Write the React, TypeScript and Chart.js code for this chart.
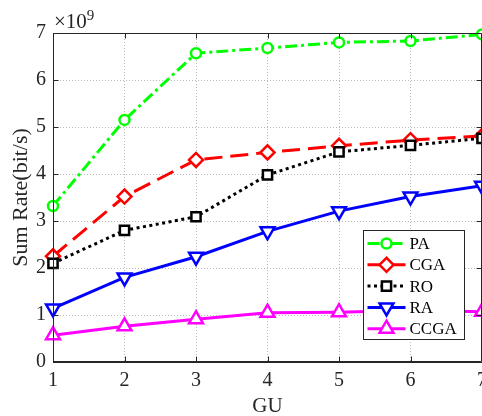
import React, { useEffect, useRef } from "react";
import { Chart, registerables } from "chart.js";
import { drawPoint } from "chart.js/helpers";

Chart.register(...registerables);

const categories = ["1", "2", "3", "4", "5", "6", "7"];
const yTickValues = [0, 1, 2, 3, 4, 5, 6, 7];
const seriesNames = ["PA", "CGA", "RO", "RA", "CCGA"];
const paValues = [3.32, 5.15, 6.57, 6.68, 6.8, 6.83, 6.97];
const cgaValues = [2.25, 3.52, 4.3, 4.46, 4.6, 4.72, 4.81];
const roValues = [2.1, 2.8, 3.09, 3.98, 4.47, 4.61, 4.76];
const raValues = [1.14, 1.8, 2.24, 2.78, 3.21, 3.52, 3.75];
const ccgaValues = [0.57, 0.76, 0.91, 1.05, 1.06, 1.1, 1.07];
const xTitle = "GU";
const yTitle = "Sum Rate(bit/s)";
const exponentBase = "×10";
const exponentPower = "9";

const FONT = '"Liberation Serif", "Times New Roman", serif';
const AXIS = "#262626";

const seriesStyles = [
  { color: "#00ff00", dash: [12, 4, 3, 4], point: "circle", radius: 5, rotation: 0 },
  { color: "#ff0000", dash: [18, 8], point: "rectRot", radius: 7, rotation: 0 },
  { color: "#000000", dash: [3, 3.5], point: "rect", radius: 6.5, rotation: 0 },
  { color: "#0000ff", dash: [], point: "triangle", radius: 8, rotation: 180 },
  { color: "#ff00ff", dash: [], point: "triangle", radius: 8, rotation: 0 },
];
const seriesValues = [paValues, cgaValues, roValues, raValues, ccgaValues];

const decorPlugin = {
  id: "decor",
  afterDraw(chart: any) {
    const { ctx, chartArea: a, scales } = chart;
    const xs = scales.x;
    const ys = scales.y;
    ctx.save();
    ctx.setLineDash([]);
    ctx.strokeStyle = AXIS;
    ctx.lineWidth = 1;
    const L = Math.round(a.left) + 0.5;
    const T = Math.round(a.top) + 0.5;
    const R = Math.round(a.right) - 0.5;
    const B = Math.round(a.bottom) - 0.5;
    ctx.beginPath();
    ctx.moveTo(L, B);
    ctx.lineTo(L, T);
    ctx.lineTo(R, T);
    ctx.lineTo(R, B);
    ctx.lineTo(L, B);
    ctx.stroke();
    const tl = 5;
    ctx.beginPath();
    categories.forEach((_, i) => {
      const x = Math.round(xs.getPixelForValue(i)) + 0.5;
      ctx.moveTo(x, B);
      ctx.lineTo(x, B - tl);
      ctx.moveTo(x, T);
      ctx.lineTo(x, T + tl);
    });
    yTickValues.forEach((v) => {
      const y = Math.round(ys.getPixelForValue(v)) + 0.5;
      ctx.moveTo(L, y);
      ctx.lineTo(L + tl, y);
      ctx.moveTo(R, y);
      ctx.lineTo(R - tl, y);
    });
    ctx.stroke();

    // exponent label
    ctx.fillStyle = AXIS;
    ctx.textBaseline = "alphabetic";
    ctx.textAlign = "left";
    ctx.font = `21px ${FONT}`;
    ctx.fillText(exponentBase, a.left + 1, a.top - 5);
    const w = ctx.measureText(exponentBase).width;
    ctx.font = `15px ${FONT}`;
    ctx.fillText(exponentPower, a.left + 1 + w, a.top - 13);

    // legend
    const bx = Math.round(a.right) - 119 + 0.5;
    const by = Math.round(a.bottom) - 132 + 0.5;
    const bw = 101;
    const bh = 109;
    ctx.fillStyle = "#ffffff";
    ctx.fillRect(bx, by, bw, bh);
    ctx.strokeStyle = AXIS;
    ctx.lineWidth = 1;
    ctx.strokeRect(bx, by, bw, bh);
    chart.data.datasets.forEach((ds: any, i: number) => {
      const cy = by + 13 + i * 21.3;
      const x0 = bx + 4;
      const x1 = bx + 42;
      ctx.save();
      ctx.strokeStyle = ds.borderColor;
      ctx.lineWidth = ds.borderWidth;
      ctx.setLineDash(ds.borderDash || []);
      ctx.beginPath();
      ctx.moveTo(x0, cy);
      ctx.lineTo(x1, cy);
      ctx.stroke();
      ctx.setLineDash([]);
      ctx.fillStyle = "#ffffff";
      ctx.strokeStyle = ds.borderColor;
      ctx.lineWidth = ds.pointBorderWidth;
      drawPoint(
        ctx,
        {
          pointStyle: ds.pointStyle,
          rotation: ds.pointRotation,
          radius: ds.pointRadius,
          borderWidth: ds.pointBorderWidth,
        } as any,
        (x0 + x1) / 2,
        cy
      );
      ctx.restore();
      ctx.fillStyle = "#000000";
      ctx.font = `17px ${FONT}`;
      ctx.textBaseline = "middle";
      ctx.textAlign = "left";
      ctx.fillText(ds.label, bx + 46, cy + 1);
    });
    ctx.restore();
  },
};

export default function App() {
  const ref = useRef<HTMLCanvasElement | null>(null);
  useEffect(() => {
    if (!ref.current) return;
    const n = seriesNames.length;
    const chart = new Chart(ref.current, {
      type: "line",
      data: {
        labels: categories,
        datasets: seriesNames.map((name, i) => ({
          label: name,
          data: seriesValues[i],
          borderColor: seriesStyles[i].color,
          backgroundColor: "#ffffff",
          borderWidth: 3,
          borderDash: seriesStyles[i].dash,
          borderCapStyle: "butt",
          pointStyle: seriesStyles[i].point,
          pointRotation: seriesStyles[i].rotation,
          pointRadius: seriesStyles[i].radius,
          pointBorderWidth: 2.5,
          pointBackgroundColor: "#ffffff",
          pointBorderColor: seriesStyles[i].color,
          tension: 0,
          fill: false,
          clip: false,
          order: n - i,
        })) as any,
      },
      options: {
        responsive: false,
        devicePixelRatio: 1,
        animation: false,
        events: [],
        layout: { autoPadding: false, padding: { top: 33, right: 0, bottom: 0, left: 0 } },
        plugins: {
          legend: { display: false },
          tooltip: { enabled: false },
        },
        scales: {
          x: {
            type: "category",
            offset: false,
            grid: { display: true, drawTicks: false, color: "rgba(0,0,0,0.28)", lineWidth: 1 },
            border: { display: true, color: AXIS, width: 1, dash: [1, 2] },
            ticks: {
              color: AXIS,
              padding: 7,
              maxRotation: 0,
              autoSkip: false,
              font: { family: FONT, size: 20 },
            },
            title: {
              display: true,
              text: xTitle,
              color: AXIS,
              font: { family: FONT, size: 21 },
              padding: { top: 0, bottom: -3 },
            },
            afterFit: (s: any) => {
              s.height = 54;
              s.paddingRight = 0;
              s.paddingLeft = 0;
            },
          },
          y: {
            type: "linear",
            min: 0,
            max: 7,
            grid: { display: true, drawTicks: false, color: "rgba(0,0,0,0.28)", lineWidth: 1 },
            border: { display: true, color: AXIS, width: 1, dash: [1, 2] },
            ticks: {
              color: AXIS,
              padding: 7,
              stepSize: 1,
              font: { family: FONT, size: 20 },
              callback: (v: any) => String(v),
            },
            afterBuildTicks: (s: any) => {
              s.ticks = yTickValues.map((v) => ({ value: v }));
            },
            title: {
              display: true,
              text: yTitle,
              color: AXIS,
              font: { family: FONT, size: 22 },
              padding: { top: 8, bottom: 0 },
            },
            afterFit: (s: any) => {
              s.width = 53;
              s.paddingTop = 0;
              s.paddingBottom = 0;
            },
          },
        },
      },
      plugins: [decorPlugin],
    });
    return () => chart.destroy();
  }, []);
  return (
    <div
      style={{
        position: "absolute",
        left: 0,
        top: 0,
        width: 482,
        height: 416,
        overflow: "hidden",
        background: "#ffffff",
      }}
    >
      <canvas ref={ref} width={482} height={416} style={{ display: "block", width: 482, height: 416 }} />
    </div>
  );
}
